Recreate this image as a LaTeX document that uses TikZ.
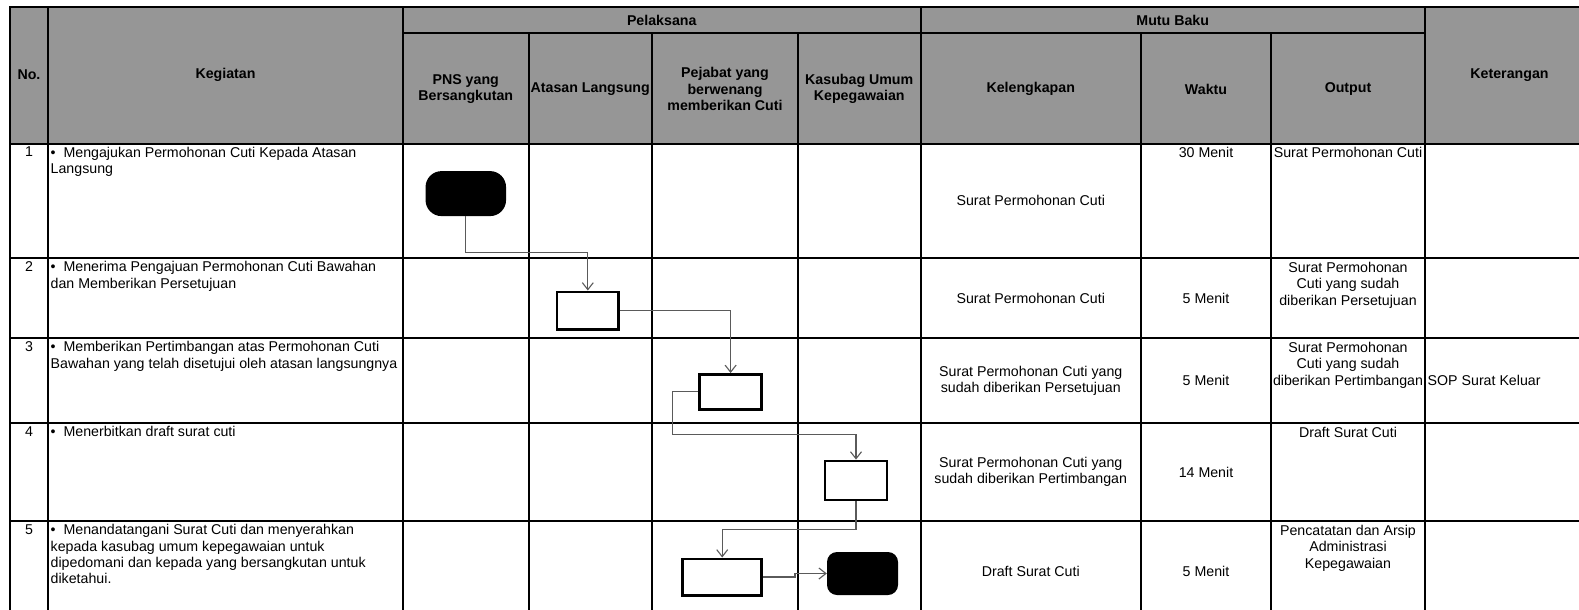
\documentclass[tikz,border=0pt]{standalone}
\usepackage{fontspec}
\setmainfont{Liberation Sans}
\usetikzlibrary{arrows.meta, positioning, calc}
\definecolor{hdrgray}{RGB}{150,150,150}
\definecolor{flowgray}{RGB}{90,90,90}

\begin{document}
\begin{tikzpicture}[
  x=1pt, y=-1pt,
  font=\fontsize{14.2}{16.3}\selectfont,
  grid/.style={line width=2pt, line cap=rect},
  hdr/.style={font=\fontsize{14.2}{16.3}\selectfont\bfseries, align=center, inner sep=0pt},
  cell/.style={align=center, inner sep=0pt},
  task/.style={align=left, anchor=north west, inner sep=0pt},
  act/.style={draw, line width=2.6pt, inner sep=0pt},
  term/.style={fill=black, inner sep=0pt},
  flow/.style={draw=flowgray, line width=1.1pt, -{Straight Barb[length=7pt,width=11pt]}}
]
\useasboundingbox (0,0) rectangle (1579,610);
\clip (0,0) rectangle (1579,610);

% table grid
\fill[hdrgray] (10,7.5) rectangle (1610,143.5);
\draw[grid] (10,7.5) -- (1610,7.5);
\draw[grid] (403,33) -- (1425,33);
\draw[grid] (10,143.5) -- (1610,143.5);
\draw[grid] (10,258) -- (1610,258);
\draw[grid] (10,338) -- (1610,338);
\draw[grid] (10,423) -- (1610,423);
\draw[grid] (10,521) -- (1610,521);
\draw[grid] (10,7.5) -- (10,640);
\draw[grid] (48,7.5) -- (48,640);
\draw[grid] (403,7.5) -- (403,640);
\draw[grid] (920.5,7.5) -- (920.5,640);
\draw[grid] (1425,7.5) -- (1425,640);
\draw[grid] (528.5,33) -- (528.5,640);
\draw[grid] (652,33) -- (652,640);
\draw[grid] (798,33) -- (798,640);
\draw[grid] (1141,33) -- (1141,640);
\draw[grid] (1271,33) -- (1271,640);

% headers
\node[hdr] (hno) at (29,75) {No.};
\node[hdr] (hkeg) at (225.5,75) {Kegiatan};
\node[hdr] (hpel) at (661.75,20.5) {Pelaksana};
\node[hdr] (hmutu) at (1172.75,20.5) {Mutu Baku};
\node[hdr] (hket) at (1509.5,75) {Keterangan};
\node[hdr] (hpns) at (465.75,89) {PNS yang\\Bersangkutan};
\node[hdr] (hatasan) at (590.25,89) {Atasan Langsung};
\node[hdr] (hpejabat) at (725,89) {Pejabat yang\\berwenang\\memberikan Cuti};
\node[hdr] (hkasubag) at (859.25,89) {Kasubag Umum\\Kepegawaian};
\node[hdr] (hkel) at (1030.75,89) {Kelengkapan};
\node[hdr] (hwaktu) at (1206,89) {Waktu};
\node[hdr] (houtput) at (1348,89) {Output};

% row numbers
\node[cell, anchor=north] (no1) at (29,147) {1};
\node[cell, anchor=north] (no2) at (29,261.5) {2};
\node[cell, anchor=north] (no3) at (29,341.5) {3};
\node[cell, anchor=north] (no4) at (29,426.5) {4};
\node[cell, anchor=north] (no5) at (29,524.5) {5};

% kegiatan
\node[task] (keg1) at (50.5,147) {•\ \ Mengajukan Permohonan Cuti Kepada Atasan\\Langsung};
\node[task] (keg2) at (50.5,261.5) {•\ \ Menerima Pengajuan Permohonan Cuti Bawahan\\dan Memberikan Persetujuan};
\node[task] (keg3) at (50.5,341.5) {•\ \ Memberikan Pertimbangan atas Permohonan Cuti\\Bawahan yang telah disetujui oleh atasan langsungnya};
\node[task] (keg4) at (50.5,426.5) {•\ \ Menerbitkan draft surat cuti};
\node[task] (keg5) at (50.5,524.5) {•\ \ Menandatangani Surat Cuti dan menyerahkan\\kepada kasubag umum kepegawaian untuk\\dipedomani dan kepada yang bersangkutan untuk\\diketahui.};

% kelengkapan
\node[cell] (kel1) at (1030.75,200.75) {Surat Permohonan Cuti};
\node[cell] (kel2) at (1030.75,298) {Surat Permohonan Cuti};
\node[cell] (kel3) at (1030.75,380.5) {Surat Permohonan Cuti yang\\sudah diberikan Persetujuan};
\node[cell] (kel4) at (1030.75,472) {Surat Permohonan Cuti yang\\sudah diberikan Pertimbangan};
\node[cell] (kel5) at (1030.75,571.5) {Draft Surat Cuti};

% waktu
\node[cell, anchor=north] (wkt1) at (1206,147) {30 Menit};
\node[cell] (wkt2) at (1206,298) {5 Menit};
\node[cell] (wkt3) at (1206,380.5) {5 Menit};
\node[cell] (wkt4) at (1206,472) {14 Menit};
\node[cell] (wkt5) at (1206,571.5) {5 Menit};

% output
\node[cell, anchor=north] (out1) at (1348,147) {Surat Permohonan Cuti};
\node[cell, anchor=north] (out2) at (1348,262) {Surat Permohonan\\Cuti yang sudah\\diberikan Persetujuan};
\node[cell, anchor=north] (out3) at (1348,342) {Surat Permohonan\\Cuti yang sudah\\diberikan Pertimbangan};
\node[cell, anchor=north] (out4) at (1348,427) {Draft Surat Cuti};
\node[cell, anchor=north] (out5) at (1348,525) {Pencatatan dan Arsip\\Administrasi\\Kepegawaian};

% keterangan
\node[cell, anchor=west] (ket3) at (1427.5,380) {SOP Surat Keluar};

% flow shapes
\node[term, rounded corners=16pt, minimum width=80.5pt, minimum height=45pt] (start) at (465.8,193.6) {};
\node[act, minimum width=61.4pt, minimum height=37.4pt] (acc) at (587.8,310.5) {};
\node[act, minimum width=62pt, minimum height=35pt] (pert) at (730.6,391.8) {};
\node[act, minimum width=62pt, minimum height=39pt] (draft) at (856,480.4) {};
\node[act, minimum width=79pt, minimum height=36.4pt] (ttd) at (722.2,577) {};
\node[term, rounded corners=10pt, minimum width=71pt, minimum height=43pt] (end) at (862.5,573.5) {};

% connectors
\draw[flow] (start.south) -- ++(0,36) -| (acc.north);
\draw[flow] (acc.east) -| (pert.north);
\draw[flow] (pert.west) -- ++(-26,0) -- ++(0,43) -| (draft.north);
\draw[flow] (draft.south) -- ++(0,28) -| (ttd.north);
\draw[flow] (ttd.east) -- ++(32,0) |- (end.west);
\end{tikzpicture}
\end{document}
